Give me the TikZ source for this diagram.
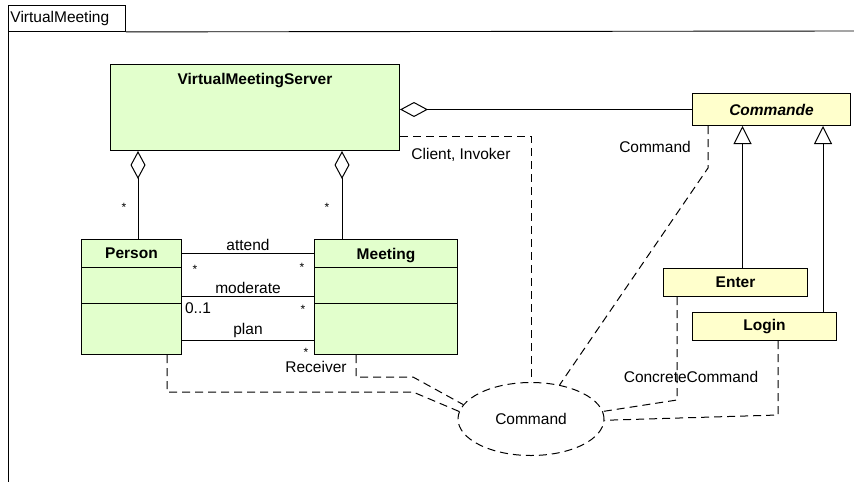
\documentclass[tikz,border=0pt]{standalone}
\usepackage{fontspec}
\setmainfont{Liberation Sans}
\usetikzlibrary{arrows.meta,shapes.geometric}

\definecolor{classgreen}{RGB}{226,255,204}
\definecolor{cmdyellow}{RGB}{255,255,204}
\newcommand{\umlfont}{\fontsize{15.5}{18}\selectfont}

\tikzset{
    umlclass/.style={draw, line width=1pt, fill=classgreen, anchor=north west, inner sep=0pt},
    cmdclass/.style={draw, line width=1pt, fill=cmdyellow, anchor=north west, inner sep=0pt, font=\umlfont\bfseries},
    classname/.style={anchor=north, yshift=-9pt, inner sep=0pt, font=\umlfont\bfseries},
    assoc/.style={line width=1pt},
    aggr/.style={line width=1pt, {Diamond[open,length=28pt,width=15pt]}-},
    inherit/.style={line width=1pt, -{Triangle[open,length=18pt,width=18pt]}},
    collab/.style={line width=1pt, dash pattern=on 8pt off 5pt},
    mult/.style={font=\fontsize{12}{12}\selectfont, inner sep=0pt},
    asslabel/.style={inner sep=2pt},
}

\begin{document}
\begin{tikzpicture}[x=1pt, y=-1pt, font=\umlfont]
    \useasboundingbox (0,0) rectangle (854,482);

    % Package frame
    \node[draw, line width=0.9pt, anchor=north west, inner sep=2pt, text width=113pt,
          minimum height=26pt, align=left] (tab) at (8,5) {VirtualMeeting};
    \draw[line width=0.9pt] (tab.south east) -- (854,31);
    \draw[line width=0.9pt] (tab.south west) -- (8,482);

    % Classes
    \node[umlclass, minimum width=289pt, minimum height=86pt,
          label={[classname]north:VirtualMeetingServer}] (srv) at (110,64) {};
    \node[umlclass, minimum width=100pt, minimum height=115pt,
          label={[classname]north:Person}] (person) at (81,239) {};
    \node[umlclass, minimum width=143pt, minimum height=115pt,
          label={[classname]north:Meeting}] (meeting) at (314,239) {};
    \draw[line width=1pt] ([yshift=-28]person.north west) -- ([yshift=-28]person.north east);
    \draw[line width=1pt] ([yshift=-64]person.north west) -- ([yshift=-64]person.north east);
    \draw[line width=1pt] ([yshift=-28]meeting.north west) -- ([yshift=-28]meeting.north east);
    \draw[line width=1pt] ([yshift=-64]meeting.north west) -- ([yshift=-64]meeting.north east);

    % Command hierarchy
    \node[cmdclass, minimum width=158pt, minimum height=32pt] (cmd) at (692,93) {\itshape Commande};
    \node[cmdclass, minimum width=144pt, minimum height=28pt] (enter) at (663,268) {Enter};
    \node[cmdclass, minimum width=144pt, minimum height=28pt] (login) at (692,312) {Login};

    % Collaboration
    \node[ellipse, draw, collab, minimum width=146pt, minimum height=73pt, inner sep=0pt]
          (collab) at (531,419) {Command};

    % Aggregations
    \draw[aggr] ([xshift=28]srv.south west) -- ([xshift=28]srv.south west |- person.north);
    \draw[aggr] ([xshift=232]srv.south west) -- ([xshift=232]srv.south west |- meeting.north);
    \draw[aggr] (srv.east |- cmd.west) -- (cmd.west);
    \node[mult] at (124,207) {*};
    \node[mult] at (327,207) {*};

    % Associations Person -- Meeting
    \draw[assoc] ([yshift=-14]person.north east) -- ([yshift=-14]meeting.north west)
        node[midway, above, asslabel] {attend};
    \draw[assoc] ([yshift=-57]person.north east) -- ([yshift=-57]meeting.north west)
        node[midway, above, asslabel] {moderate};
    \draw[assoc] ([yshift=-101]person.north east) -- ([yshift=-101]meeting.north west)
        node[midway, above, asslabel] {plan};
    \node[mult] at (195,269) {*};
    \node[mult] at (302,267) {*};
    \node[inner sep=0pt] at (198,308) {0..1};
    \node[mult] at (303,309) {*};
    \node[mult] at (306,352) {*};

    % Generalizations
    \draw[inherit] ([xshift=7]enter.north) -- ([xshift=7]enter.north |- cmd.south);
    \draw[inherit] ([xshift=-14]login.north east) -- ([xshift=-14]login.north east |- cmd.south);

    % Role links
    \coordinate (pbend) at (413,392);
    \coordinate (mbend) at (413,377);
    \draw[collab] ([yshift=-72]srv.north east) -| (collab.north);
    \draw[collab] ([xshift=16]cmd.south west) -- ++(0,42) -- (collab.50);
    \draw[collab] ([xshift=86]person.south west) |- (pbend) -- (collab.174);
    \draw[collab] ([xshift=42]meeting.south west) |- (mbend) -- (collab.168);
    \draw[collab] ([xshift=14]enter.south west) -- ++(0,103) -- (collab.6);
    \draw[collab] ([xshift=86]login.south west) -- ++(0,74) -- (collab.-1);

    % Role names
    \node[inner sep=0pt] at (461,155) {Client, Invoker};
    \node[inner sep=0pt] at (655,147) {Command};
    \node[inner sep=0pt] at (691,377) {ConcreteCommand};
    \node[inner sep=0pt] at (316,367) {Receiver};
\end{tikzpicture}
\end{document}
